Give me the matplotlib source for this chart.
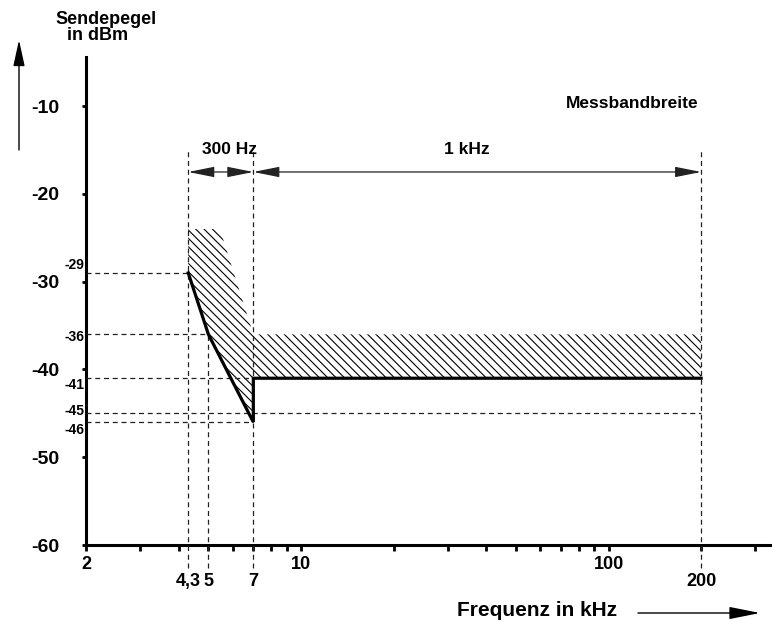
import matplotlib
matplotlib.use("Agg")
import matplotlib.pyplot as plt
from matplotlib.ticker import FixedLocator, FixedFormatter

plt.rcParams['font.family'] = ['Liberation Sans', 'DejaVu Sans']
plt.rcParams['font.weight'] = 'bold'
plt.rcParams['hatch.linewidth'] = 0.8

# ---------------- data ----------------
# limit curve (frequency in kHz, level in dBm)
curve_freq = [4.3, 5, 7, 7, 200]
curve_level = [-29, -36, -46, -41, -41]

# hatched (forbidden) region
mask_freq = [4.3, 5.45, 7, 200, 200, 7, 7, 5, 4.3]
mask_level = [-24, -24, -36, -36, -41, -41, -46, -36, -29]

# reference levels and where their dashed guide lines end
ref_levels = [-29, -36, -41, -45, -46]
ref_level_ends = [4.3, 5, 7, 200, 7]
ref_level_labels = ['-29', '-36', '-41', '-45', '-46']

# vertical guide frequencies and their upper ends
guide_freqs = [4.3, 5, 7, 200]
guide_tops = [-14.8, -36, -14.8, -14.8]

# measurement bandwidth bands
band_edges = [4.3, 7, 200]
band_labels = ['300 Hz', '1 kHz']

# axis ticks
y_ticks = [-10, -20, -30, -40, -50, -60]
y_tick_labels = ['-10', '-20', '-30', '-40', '-50', '-60']
x_tick_marks = [2, 3, 4, 5, 6, 7, 8, 9, 10, 20, 30, 40, 50, 60, 70, 80, 90, 100, 200, 300]
x_row1_labels = {2: '2', 10: '10', 100: '100'}
x_row2_ticks = [4.3, 5, 7, 200]
x_row2_labels = ['4,3', '5', '7', '200']

# ---------------- figure ----------------
W, H = 772, 624
fig = plt.figure(figsize=(W / 100, H / 100), dpi=100)
ax = fig.add_axes([86 / W, (H - 545) / H, (770 - 86) / W, (545 - 57) / H])
ax.set_xscale('log')
ax.set_xlim(2, 335)
ax.set_ylim(-60, -4.4)

for s in ['top', 'right']:
    ax.spines[s].set_visible(False)
for s in ['left', 'bottom']:
    ax.spines[s].set_linewidth(2.2)

# hatched region
ax.fill(mask_freq, mask_level, facecolor='none', edgecolor='black',
        linewidth=0, hatch=chr(92) * 4, zorder=2)

# dashed guides
dash = (0, (4, 3))
ax.hlines(ref_levels, 2, ref_level_ends, colors='#222222', linestyles=dash,
          linewidth=0.9, zorder=3)
ax.vlines(guide_freqs, -62.6, guide_tops, colors='#222222', linestyles=dash,
          linewidth=0.9, zorder=3, clip_on=False)

# limit curve
ax.plot(curve_freq, curve_level, color='black', linewidth=2.3, zorder=4,
        solid_joinstyle='miter')

# small level labels
label_dy = [5.8, -1.6, -5.0, 1.8, -6.0]
for lev, lab, dy in zip(ref_levels, ref_level_labels, label_dy):
    ax.annotate(lab, xy=(2, lev), xytext=(-1, dy), textcoords='offset points',
                ha='right', va='center', fontsize=10, fontweight='bold',
                annotation_clip=False)

# band arrows
arrow_y = -17.5
for a, b in zip(band_edges[:-1], band_edges[1:]):
    ax.annotate('', xy=(b, arrow_y), xytext=(a, arrow_y),
                arrowprops=dict(arrowstyle='<|-|>,head_length=1.6,head_width=0.32',
                                mutation_scale=10, color='#222222', lw=0.9,
                                shrinkA=0, shrinkB=0))

# ticks
ax.set_yticks(y_ticks)
ax.set_yticklabels(y_tick_labels)
ax.tick_params(axis='y', direction='out', length=3, width=2, pad=16.5,
               labelsize=14)

ax.xaxis.remove_overlapping_locs = False
ax.xaxis.set_major_locator(FixedLocator(x_tick_marks))
ax.xaxis.set_major_formatter(FixedFormatter([x_row1_labels.get(v, '') for v in x_tick_marks]))
ax.xaxis.set_minor_locator(FixedLocator(x_row2_ticks))
ax.xaxis.set_minor_formatter(FixedFormatter(x_row2_labels))
ax.tick_params(axis='x', which='major', direction='out', length=4, width=2,
               pad=4, labelsize=13)
ax.tick_params(axis='x', which='minor', length=0, pad=20, labelsize=13)

# texts
def ftext(x, y, s, size, **kw):
    fig.text(x / W, 1 - y / H, s, fontsize=size, fontweight='bold',
             ha='center', va='center', **kw)

ftext(106, 20, 'Sendepegel', 13)
ftext(98, 36, 'in dBm', 13)
ftext(632, 103, 'Messbandbreite', 12.5)
ftext(230, 149, band_labels[0], 12.5)
ftext(467, 150, band_labels[1], 12.5)
ftext(537, 610, 'Frequenz in kHz', 15)

# axis direction arrows
ax.annotate('', xy=(19, H - 40), xytext=(19, H - 150), xycoords='figure pixels',
            textcoords='figure pixels',
            arrowprops=dict(arrowstyle='-|>,head_length=1.6,head_width=0.35',
                            mutation_scale=10, color='black', lw=1,
                            shrinkA=0, shrinkB=0))
ax.annotate('', xy=(760, H - 613), xytext=(638, H - 613), xycoords='figure pixels',
            textcoords='figure pixels',
            arrowprops=dict(arrowstyle='-|>,head_length=1.9,head_width=0.38',
                            mutation_scale=10, color='black', lw=1,
                            shrinkA=0, shrinkB=0))

fig.savefig('out.png', dpi=100)
